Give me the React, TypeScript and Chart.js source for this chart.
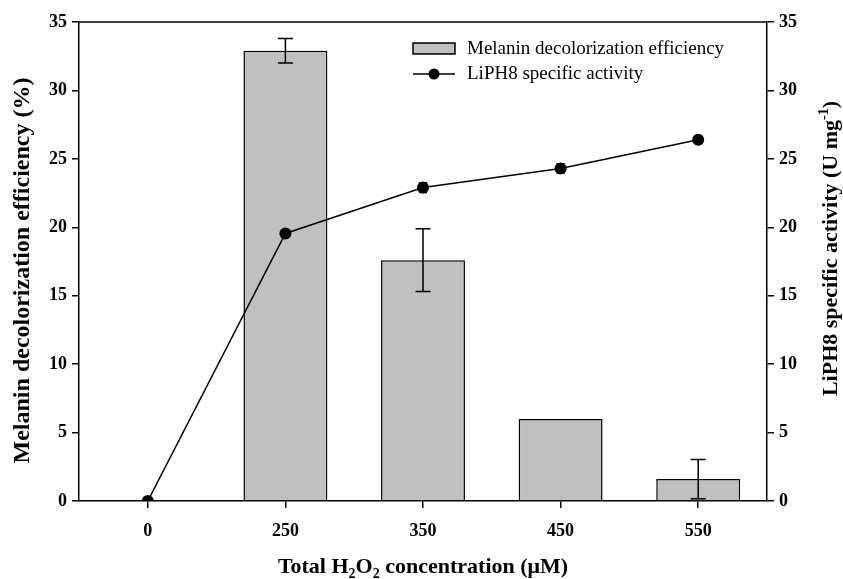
import React, { useEffect, useRef } from 'react';
import { Chart, registerables } from 'chart.js';

Chart.register(...registerables);

const categories = ['0', '250', '350', '450', '550'];
const melaninEfficiency: (number | null)[] = [null, 32.9, 17.6, 6.0, 1.6];
const melaninError = [0, 0.9, 2.3, 0, 1.43];
const liph8Activity = [0, 19.55, 22.9, 24.3, 26.4];
const liph8Error = [0, 0, 0.35, 0.35, 0.2];
const axisMin = 0;
const axisMax = 35;
const axisStep = 5;

const leftTitle = 'Melanin decolorization efficiency (%)';
const legendBarLabel = 'Melanin decolorization efficiency';
const legendLineLabel = 'LiPH8 specific activity';

const SERIF = '"Liberation Serif", "Times New Roman", serif';
const BAR_FILL = '#c0c0c0';

type Seg = { t: string; sub?: boolean; sup?: boolean };

function drawRich(ctx: CanvasRenderingContext2D, segs: Seg[], size: number, weight: string) {
  const small = Math.round(size * 0.62);
  const widths = segs.map((s) => {
    ctx.font = `${weight} ${s.sub || s.sup ? small : size}px ${SERIF}`;
    return ctx.measureText(s.t).width;
  });
  const total = widths.reduce((a, b) => a + b, 0);
  let x = -total / 2;
  ctx.textAlign = 'left';
  ctx.textBaseline = 'alphabetic';
  segs.forEach((s, i) => {
    ctx.font = `${weight} ${s.sub || s.sup ? small : size}px ${SERIF}`;
    const dy = s.sub ? size * 0.22 : s.sup ? -size * 0.38 : 0;
    ctx.fillText(s.t, x, size * 0.35 + dy);
    x += widths[i];
  });
}

const xTitle: Seg[] = [
  { t: 'Total H' },
  { t: '2', sub: true },
  { t: 'O' },
  { t: '2', sub: true },
  { t: ' concentration (\u03BCM)' },
];
const rightTitle: Seg[] = [
  { t: 'LiPH8 specific activity (U mg' },
  { t: '-1', sup: true },
  { t: ')' },
];

const decorPlugin = {
  id: 'decor',
  afterDatasetDraw(chart: any, args: any) {
    const ctx: CanvasRenderingContext2D = chart.ctx;
    const yL = chart.scales.y;
    const yR = chart.scales.y1;
    const meta = args.meta;
    const ds = chart.data.datasets[args.index];
    const errs: number[] = ds.errors;
    const scale = ds.yAxisID === 'y1' ? yR : yL;
    const cap = ds.capWidth;
    ctx.save();
    ctx.strokeStyle = '#000';
    ctx.lineWidth = 1.5;
    meta.data.forEach((el: any, i: number) => {
      const v = ds.data[i];
      const e = errs[i];
      if (v == null || !e) return;
      const x = el.x;
      const top = scale.getPixelForValue(v + e);
      const bot = scale.getPixelForValue(Math.max(0, v - e));
      ctx.beginPath();
      ctx.moveTo(x, top);
      ctx.lineTo(x, bot);
      ctx.moveTo(x - cap / 2, top);
      ctx.lineTo(x + cap / 2, top);
      ctx.moveTo(x - cap / 2, bot);
      ctx.lineTo(x + cap / 2, bot);
      ctx.stroke();
    });
    ctx.restore();
  },
  afterDraw(chart: any) {
    const ctx: CanvasRenderingContext2D = chart.ctx;
    const a = chart.chartArea;
    ctx.save();
    // top frame line
    ctx.strokeStyle = '#000';
    ctx.lineWidth = 1.5;
    ctx.beginPath();
    ctx.moveTo(a.left, a.top);
    ctx.lineTo(a.right, a.top);
    ctx.stroke();

    ctx.fillStyle = '#000';
    // x title
    ctx.save();
    ctx.translate((a.left + a.right) / 2, chart.height - 14);
    drawRich(ctx, xTitle, 22, 'bold');
    ctx.restore();
    // left title
    ctx.save();
    ctx.translate(21, (a.top + a.bottom) / 2 + 9);
    ctx.rotate(-Math.PI / 2);
    drawRich(ctx, [{ t: leftTitle }], 24, 'bold');
    ctx.restore();
    // right title
    ctx.save();
    ctx.translate(chart.width - 14, (a.top + a.bottom) / 2 - 13);
    ctx.rotate(-Math.PI / 2);
    drawRich(ctx, rightTitle, 22, 'bold');
    ctx.restore();

    // legend
    const lx = a.left + 334;
    const ly = a.top + 21;
    ctx.fillStyle = BAR_FILL;
    ctx.fillRect(lx, ly, 42, 11);
    ctx.strokeStyle = '#000';
    ctx.lineWidth = 1.5;
    ctx.strokeRect(lx, ly, 42, 11);
    ctx.beginPath();
    ctx.moveTo(lx, ly + 31);
    ctx.lineTo(lx + 42, ly + 31);
    ctx.stroke();
    ctx.fillStyle = '#000';
    ctx.beginPath();
    ctx.arc(lx + 21, ly + 31, 5.5, 0, Math.PI * 2);
    ctx.fill();
    ctx.font = `19px ${SERIF}`;
    ctx.textAlign = 'left';
    ctx.textBaseline = 'middle';
    ctx.fillText(legendBarLabel, lx + 54, ly + 6);
    ctx.fillText(legendLineLabel, lx + 54, ly + 31);
    ctx.restore();
  },
};

export default function App() {
  const ref = useRef<HTMLCanvasElement | null>(null);
  useEffect(() => {
    if (!ref.current) return;
    const tickFont = { family: SERIF, size: 18, weight: 'bold' as const };
    const yAxisCommon = {
      min: axisMin,
      max: axisMax,
      ticks: { stepSize: axisStep, color: '#000', font: tickFont, padding: 5 },
      grid: { drawOnChartArea: false, drawTicks: true, tickLength: 7, color: '#000', lineWidth: 1.5 },
      border: { display: true, color: '#000', width: 1.5 },
    };
    const chart = new Chart(ref.current, {
      type: 'bar',
      data: {
        labels: categories,
        datasets: [
          {
            type: 'line',
            label: legendLineLabel,
            data: liph8Activity,
            yAxisID: 'y1',
            borderColor: '#000',
            backgroundColor: '#000',
            borderWidth: 1.5,
            pointRadius: 6,
            pointBackgroundColor: '#000',
            pointBorderWidth: 0,
            tension: 0,
            order: 0,
            errors: liph8Error,
            capWidth: 8,
          } as any,
          {
            type: 'bar',
            label: legendBarLabel,
            data: melaninEfficiency,
            yAxisID: 'y',
            backgroundColor: BAR_FILL,
            borderColor: '#000',
            borderWidth: 1.5,
            categoryPercentage: 1,
            barPercentage: 0.61,
            order: 1,
            errors: melaninError,
            capWidth: 15,
          } as any,
        ],
      },
      options: {
        animation: false,
        responsive: false,
        maintainAspectRatio: false,
        layout: { padding: { top: 22, left: 0, right: 0, bottom: 0 } },
        plugins: { legend: { display: false }, tooltip: { enabled: false } },
        scales: {
          x: {
            type: 'category',
            offset: true,
            ticks: { color: '#000', font: tickFont, padding: 13 },
            grid: { offset: false, drawOnChartArea: false, drawTicks: true, tickLength: 7, color: '#000', lineWidth: 1.5 },
            border: { display: true, color: '#000', width: 1.5 },
            afterFit: (s: any) => { s.height = 78; },
          },
          y: {
            ...yAxisCommon,
            position: 'left',
            afterFit: (s: any) => { s.width = 79; },
          },
          y1: {
            ...yAxisCommon,
            position: 'right',
            afterFit: (s: any) => { s.width = 76; },
          },
        } as any,
      },
      plugins: [decorPlugin],
    });
    return () => chart.destroy();
  }, []);
  return (
    <div style={{ position: 'fixed', left: 0, top: 0, width: 843, height: 579, background: '#fff' }}>
      <canvas ref={ref} width={843} height={579} style={{ width: 843, height: 579 }} />
    </div>
  );
}
